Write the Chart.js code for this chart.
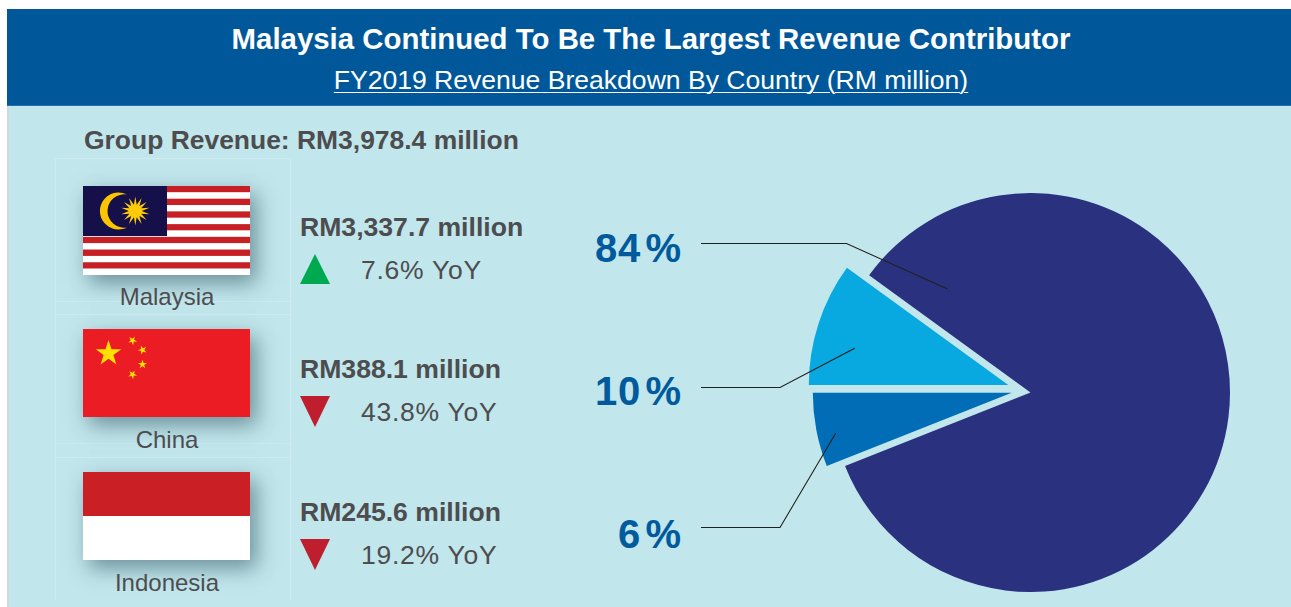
<!DOCTYPE html>
<html><head><meta charset="utf-8">
<script src="https://cdn.jsdelivr.net/npm/chart.js@4"></script>
<style>
html,body{margin:0;padding:0;background:#fff;overflow:hidden;width:1291px;height:607px;font-family:"Liberation Sans",Arial,sans-serif}
.abs{position:absolute;white-space:nowrap}
#header{position:absolute;left:7px;top:9px;width:1284px;height:96px;background:#00589a;border-bottom:1px solid #1d70ae}
#panel{position:absolute;left:7px;top:106px;width:1284px;height:501px;background:#c1e6ec;box-shadow:inset 2px 0 0 #d4d8d9}
.title{left:7px;width:1288px;text-align:center;color:#fff}
.grid{position:absolute;background:#cdebf0}
.flag{position:absolute;left:83px;width:167px;box-shadow:6px 8px 20px rgba(50,85,95,.6);display:block}
.gray{color:#4d4d4f}
#chartBox{position:absolute;left:781px;top:193px;width:499px;height:399px}
svg.over{position:absolute;left:0;top:0;pointer-events:none}
</style></head><body>
<div id="header"></div><div id="panel"></div>
<div class="abs title" style="top:22px;font-size:29.4px;line-height:34px;font-weight:bold">Malaysia Continued To Be The Largest Revenue Contributor</div>
<div class="abs title" style="top:64px;font-size:26.55px;line-height:32px"><span style="text-decoration:underline;text-underline-offset:3px;text-decoration-thickness:1px">FY2019 Revenue Breakdown By Country (RM million)</span></div>
<div class="abs gray" id="groupRev" style="left:84px;top:124px;font-size:26.45px;line-height:32px;font-weight:bold"></div>
<div id="rows"></div>
<div id="chartBox"><canvas id="pie"></canvas></div>
<svg class="over" width="1291" height="607" id="leaders"></svg>
<script>
const categories = ['Malaysia','China','Indonesia'];
const revenueLabels = ['RM3,337.7 million','RM388.1 million','RM245.6 million'];
const yoyValues = ['7.6% YoY','43.8% YoY','19.2% YoY'];
const yoyDirection = ['up','down','down'];
const shareLabels = ['84','10','6'];
const groupRevenue = 'Group Revenue: RM3,978.4 million';
// drawing order clockwise from the notch
const pieCategories = ['Malaysia','Indonesia','China'];
const pieShares = [84,6,10];
const pieColors = ['#2a3280','#006db6','#07a9e0'];

// layout (separate from the data)
const rowTop = [186,329,472];
const revenueY = [227,369,512];
const yoyY = [270,412,555];
const shareY = [247.5,391,534];
const leaderPaths = ['701,243.5 846.5,243.5 947.5,289','701,387.5 780,387.5 854.7,348.3','701,527.5 780,527.5 835.7,433.3'];
const pull = {Malaysia:[0,0],China:[-22.2,-7.4],Indonesia:[-18.8,0.3]};
const trim = {Malaysia:0,China:0,Indonesia:0.6};

document.getElementById('groupRev').textContent = groupRevenue;
const flags = {
Malaysia:(()=>{let s='';for(let i=0;i<14;i++){s+=`<rect x="0" y="${i*89/14}" width="167" height="${89/14+.05}" fill="${i%2?'#fff':'#c81f25'}"/>`}
 s+='<rect width="84" height="50" fill="#15104a"/>';
 s+='<path fill="#fdc500" d="M44 8.6 A18.5 18.5 0 1 0 44 41.4 A16.65 16.65 0 1 1 44 8.6 Z"/>';
 let pts=[];for(let i=0;i<28;i++){const r=i%2?6.5:14.5,a=i*Math.PI/14-Math.PI/2;pts.push((52.3+r*Math.cos(a)).toFixed(1)+','+(25+r*Math.sin(a)).toFixed(1))}
 s+=`<polygon fill="#fdcb08" points="${pts.join(' ')}"/>`;return ['89',s]})(),
China:(()=>{const star=(cx,cy,R,rot)=>{let p=[];for(let i=0;i<10;i++){const r=i%2?R*.382:R,a=rot+i*Math.PI/5-Math.PI/2;p.push((cx+r*Math.cos(a)).toFixed(1)+','+(cy+r*Math.sin(a)).toFixed(1))}return `<polygon fill="#ffe000" points="${p.join(' ')}"/>`};
 return ['88','<rect width="167" height="88" fill="#ec1c24"/>'+star(25.5,24.5,13.5,0)+star(49.5,11.5,4.7,.5)+star(59.5,21,4.7,.9)+star(59.5,35.5,4.7,0)+star(49.5,45.5,4.7,.5)]})(),
Indonesia:['88','<rect width="167" height="44" fill="#ca1f25"/><rect y="44" width="167" height="44" fill="#fff"/>']
};
const rowsEl=document.getElementById('rows');let html='';
// faint table lines
[[55,158,236,1],[55,301,236,1],[55,314,236,1],[55,443,236,1],[55,457,236,1]].forEach(g=>html+=`<div class="grid" style="left:${g[0]}px;top:${g[1]}px;width:${g[2]}px;height:${g[3]}px"></div>`);
[55,290].forEach(x=>html+=`<div class="grid" style="left:${x}px;top:158px;width:1px;height:442px"></div>`);
categories.forEach((c,i)=>{
 const t=rowTop[i],f=flags[c];
 html+=`<svg class="flag" style="top:${t}px;height:${f[0]}px" width="167" height="${f[0]}" viewBox="0 0 167 ${f[0]}">${f[1]}</svg>`;
 html+=`<div class="abs gray" style="left:67px;width:200px;text-align:center;top:${t+97}px;font-size:24px;line-height:28px">${c}</div>`;
 html+=`<div class="abs gray" style="left:300px;top:${revenueY[i]-16}px;font-size:26.6px;line-height:32px;font-weight:bold">${revenueLabels[i]}</div>`;
 html+=`<div class="abs gray" style="left:361px;top:${yoyY[i]-16}px;font-size:26.5px;line-height:32px;letter-spacing:.75px">${yoyValues[i]}</div>`;
 const up=yoyDirection[i]==='up';
 html+=`<svg class="abs" style="left:300px;top:${t+(up?68:67)}px" width="30" height="31" viewBox="0 0 30 31"><polygon fill="${up?'#00a94f':'#be1e2d'}" points="${up?'15,0 30,30 0,30':'0,0 30,0 15,31'}"/></svg>`;
 html+=`<div class="abs" style="right:610px;top:${shareY[i]-25}px;font-size:40px;line-height:50px;font-weight:bold;color:#005a9c;letter-spacing:.8px">${shareLabels[i]}<span style="margin-left:4.4px;letter-spacing:0">%</span></div>`;
});
rowsEl.innerHTML=html;
document.getElementById('leaders').innerHTML=leaderPaths.map(p=>`<polyline points="${p}" fill="none" stroke="#231f20" stroke-width="1.1"/>`).join('');

const explode={id:'explode',afterDatasetsUpdate(chart){
 const arcs=chart.getDatasetMeta(0).data;
 pieCategories.forEach((c,i)=>{arcs[i].x+=pull[c][0];arcs[i].y+=pull[c][1];arcs[i].outerRadius-=trim[c];});
}};
new Chart(document.getElementById('pie'),{
 type:'pie',
 data:{labels:pieCategories,datasets:[{data:pieShares,backgroundColor:pieColors,borderWidth:0}]},
 options:{responsive:true,maintainAspectRatio:false,animation:false,rotation:306,
  layout:{padding:0},plugins:{legend:{display:false},tooltip:{enabled:false},title:{display:false}}},
 plugins:[explode]
});
</script>
</body></html>
